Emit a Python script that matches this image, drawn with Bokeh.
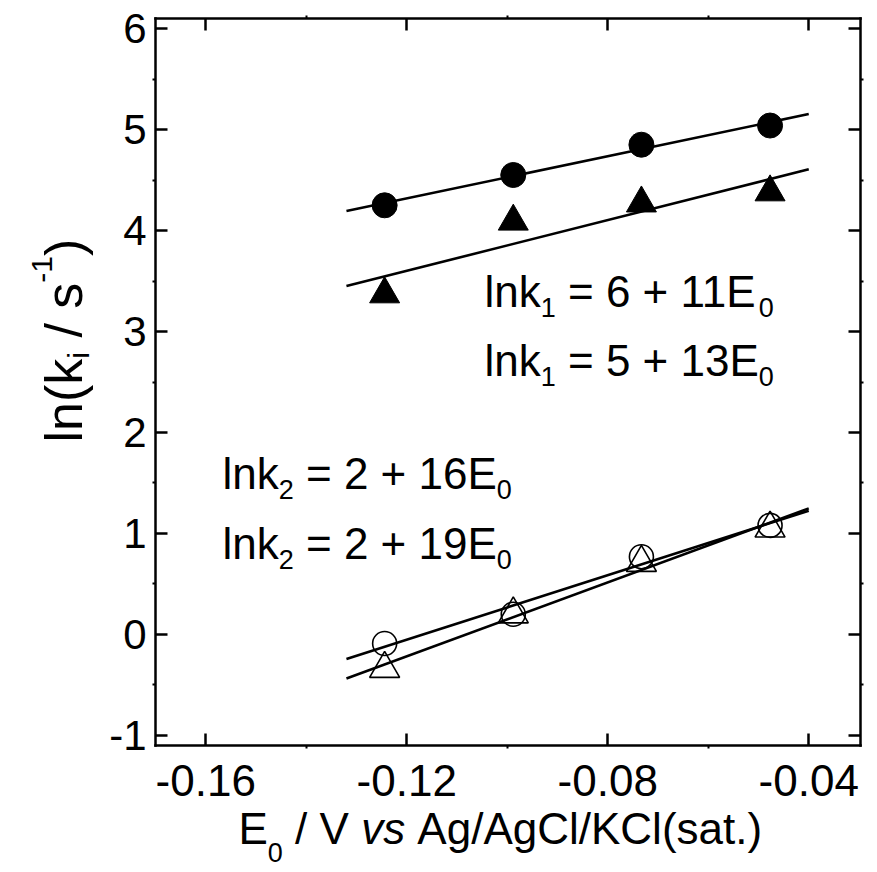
import math
import numpy as np
from bokeh.plotting import figure
from bokeh.models import Label, LinearAxis, FixedTicker, Range1d
from bokeh.embed import file_html
from bokeh.resources import INLINE

# ---------------- data ----------------
E0 = [-0.1244, -0.0988, -0.0733, -0.0477]
lnk1_circle = [4.25, 4.55, 4.85, 5.04]      # filled circles
lnk1_triangle = [3.37, 4.09, 4.27, 4.38]    # filled triangles
lnk2_circle = [-0.09, 0.20, 0.77, 1.08]     # open circles
lnk2_triangle = [-0.34, 0.20, 0.71, 1.05]   # open triangles
fit_span = [-0.132, -0.040]                  # extent of the fitted lines

x_major = [-0.16, -0.12, -0.08, -0.04]
x_major_labels = ["-0.16", "-0.12", "-0.08", "-0.04"]
x_minor = [-0.14, -0.10, -0.06]
y_major = [-1, 0, 1, 2, 3, 4, 5, 6]
y_major_labels = ["-1", "0", "1", "2", "3", "4", "5", "6"]
y_minor = [-0.5, 0.5, 1.5, 2.5, 3.5, 4.5, 5.5]

eq_upper = [("lnk", "1", " = 6 + 11E", "0"), ("lnk", "1", " = 5 + 13E", "0")]
eq_lower = [("lnk", "2", " = 2 + 16E", "0"), ("lnk", "2", " = 2 + 19E", "0")]

X_BOX = (-0.17, -0.0297)
Y_BOX = (-1.1, 6.1)

# ---------------- layout ----------------
W, H = 877, 872
FL, FR, FT, FB = 155, 860, 18, 745   # box edges in canvas px
FONT = "Liberation Sans"

sx = (X_BOX[1] - X_BOX[0]) / (FR - FL)
sy = (Y_BOX[1] - Y_BOX[0]) / (FB - FT)
x_range = Range1d(X_BOX[0] - FL * sx, X_BOX[1] + (W - FR) * sx)
y_range = Range1d(Y_BOX[0] - (H - FB) * sy, Y_BOX[1] + FT * sy)


def px2x(px):
    return X_BOX[0] + (px - FL) * sx


def py2y(py):
    return Y_BOX[1] - (py - FT) * sy


p = figure(width=W, height=H, output_backend="svg", toolbar_location=None,
           x_range=x_range, y_range=y_range, x_axis_type=None, y_axis_type=None,
           min_border=0, min_border_left=0, min_border_right=0,
           min_border_top=0, min_border_bottom=0)
p.grid.visible = False
p.background_fill_color = "white"
p.border_fill_color = "white"
p.outline_line_color = None

xt = FixedTicker(ticks=x_major, minor_ticks=x_minor)
yt = FixedTicker(ticks=y_major, minor_ticks=y_minor)

ax_left = LinearAxis(ticker=yt, fixed_location=X_BOX[0], bounds=Y_BOX)
ax_right = LinearAxis(ticker=yt, fixed_location=X_BOX[1], bounds=Y_BOX)
ax_below = LinearAxis(ticker=xt, fixed_location=Y_BOX[0], bounds=X_BOX)
ax_above = LinearAxis(ticker=xt, fixed_location=Y_BOX[1], bounds=X_BOX)
p.add_layout(ax_left, "left")
p.add_layout(ax_right, "right")
p.add_layout(ax_below, "below")
p.add_layout(ax_above, "above")

for ax in (ax_left, ax_right, ax_below, ax_above):
    ax.axis_line_color = "black"
    ax.axis_line_width = 2.5
    ax.axis_line_cap = "square"
    ax.major_tick_in = 12
    ax.major_tick_out = 0
    ax.major_tick_line_width = 2.5
    ax.major_tick_line_color = "black"
    ax.minor_tick_in = 0
    ax.minor_tick_out = 3
    ax.minor_tick_line_width = 2
    ax.minor_tick_line_color = "black"
    ax.major_label_text_font = FONT
    ax.major_label_text_color = "black"

ax_below.major_label_overrides = {t: s for t, s in zip(x_major, x_major_labels)}
ax_below.major_label_text_font_size = "44px"
ax_below.major_label_standoff = 16
ax_left.major_label_overrides = {t: s for t, s in zip(y_major, y_major_labels)}
ax_left.major_label_text_font_size = "42px"
ax_left.major_label_standoff = 6
ax_above.major_label_overrides = {t: "" for t in x_major}
ax_right.major_label_overrides = {t: "" for t in y_major}

# ---------------- fitted lines ----------------
fx = np.array(fit_span)
for ys in (lnk1_circle, lnk1_triangle, lnk2_circle, lnk2_triangle):
    k, b = np.polyfit(E0, ys, 1)
    p.line(fx, k * fx + b, line_color="black", line_width=2.6)

# ---------------- markers ----------------
p.scatter(E0, lnk1_circle, marker="circle", size=25, fill_color="black", line_color="black")
p.scatter(E0, lnk1_triangle, marker="triangle", size=30, fill_color="black", line_color="black")
p.scatter(E0, lnk2_circle, marker="circle", size=24, fill_color=None, line_color="black", line_width=1.6)
p.scatter(E0, lnk2_triangle, marker="triangle", size=30, fill_color=None, line_color="black", line_width=1.6)

# ---------------- rich text helper ----------------
HW = {' ': 278, '/': 278, '(': 333, ')': 333, '-': 333, '.': 278, '=': 584, '+': 584,
      'A': 667, 'C': 722, 'E': 667, 'K': 667, 'V': 667, 'a': 556, 'g': 556, 'k': 500,
      'l': 222, 'n': 556, 's': 500, 't': 278, 'v': 500, 'i': 222}
NBSP = "\u00a0"


def tw(text, size):
    return sum(HW.get(c, 556) for c in text) / 1000.0 * size


def rich(pieces, px, py, rotated=False):
    adv = 0.0
    for text, size, dy, style in pieces:
        if rotated:
            xo, yo, ang = -dy, adv, math.pi / 2
        else:
            xo, yo, ang = adv, dy, 0.0
        p.add_layout(Label(x=px2x(px), y=py2y(py), x_offset=xo, y_offset=yo, angle=ang,
                           text=text.replace(" ", NBSP), text_font=FONT,
                           text_font_size=f"{size}px",
                           text_font_style=style, text_color="black",
                           text_align="left", text_baseline="alphabetic"))
        adv += tw(text, size)


MAIN, SUB, SUBDY = 44, 27, -16


def equation(parts, px, py):
    a, s1, b, s2 = parts
    rich([(a, MAIN, 0, "normal"), (s1, SUB, SUBDY, "normal"),
          (b, MAIN, 0, "normal"), (s2, SUB, SUBDY, "normal")], px, py)


equation(eq_upper[0], 484, 291)
equation(eq_upper[1], 484, 360)
equation(eq_lower[0], 222, 473)
equation(eq_lower[1], 222, 543)

# axis titles
rich([("E", 44, 0, "normal"), ("0", 27, -24, "normal"), (" / V ", 44, 0, "normal"),
      ("vs", 44, 0, "italic"), (" Ag/AgCl/KCl(sat.)", 44, 0, "normal")], 238, 828)
rich([("ln(k", 52, 0, "normal"), ("i", 30, -15, "normal"), (" / s", 52, 0, "normal"),
      ("-1", 30, 22, "normal"), (")", 52, 0, "normal")], 63, 442, rotated=True)

open("out.html", "w").write(file_html(p, INLINE))
